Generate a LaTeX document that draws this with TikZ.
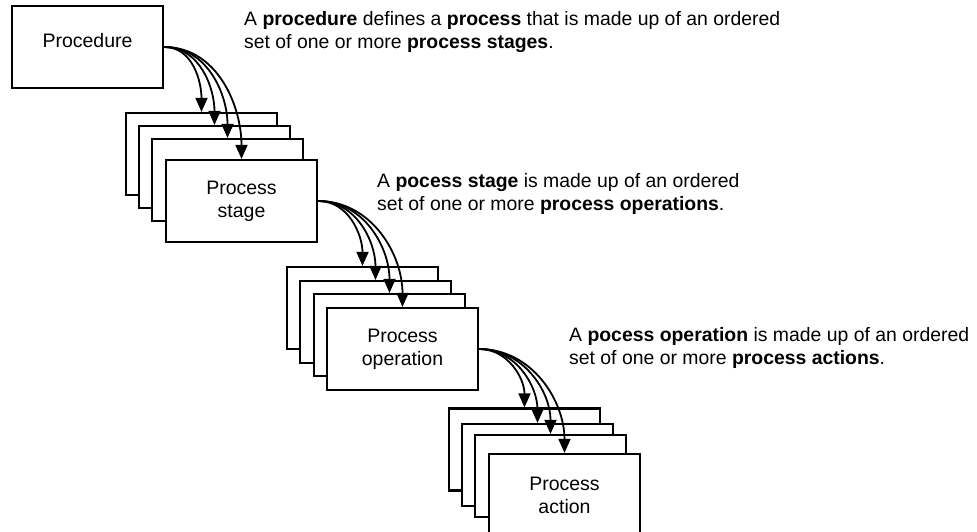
\documentclass[tikz,border=0pt]{standalone}
\usepackage{fontspec}
\setmainfont{Liberation Sans}
\usetikzlibrary{arrows.meta}
\begin{document}
\begin{tikzpicture}[x=1pt,y=-1pt,
  box/.style={draw=black,line width=2.2pt,fill=white,minimum width=151pt,minimum height=82pt,inner sep=0pt,align=center,font=\fontsize{19.5}{23}\selectfont},
  arr/.style={line width=1.8pt,-{Triangle[length=14pt,width=12pt]}},
  desc/.style={align=left,anchor=west,inner sep=0pt,font=\fontsize{19.4}{23}\selectfont}]
\useasboundingbox (0,0) rectangle (977,531);
% procedure
\node[box,label={[yshift=6pt,font=\fontsize{19.5}{23}\selectfont]center:Procedure}] (p) at (87.5,47) {};
% stage stack
\node[box] (s1) at (201.5,154) {};
\node[box] (s2) at (214.5,167) {};
\node[box] (s3) at (227.5,180) {};
\node[box] (s4) at (241.5,201) {Process\\stage};
% operation stack
\node[box] (o1) at (362.5,308) {};
\node[box] (o2) at (375.5,322) {};
\node[box] (o3) at (389.5,335) {};
\node[box] (o4) at (402.5,349) {Process\\operation};
% action stack
\node[box] (a1) at (524.5,449.5) {};
\node[box] (a2) at (537.5,465) {};
\node[box] (a3) at (550.5,476) {};
\node[box] (a4) at (564.5,495) {Process\\action};
% arrows
\foreach \t in {s1,s2,s3,s4} \draw[arr] (p.east) to[out=0,in=90] (\t.north);
\foreach \t in {o1,o2,o3,o4} \draw[arr] (s4.east) to[out=0,in=90] (\t.north);
\foreach \t in {a1,a2,a3,a4} \draw[arr] (o4.east) to[out=0,in=90] (\t.north);
% descriptions
\node[desc] (t1) at (244,32) {A \textbf{procedure} defines a \textbf{process} that is made up of an ordered\\set of one or more \textbf{process stages}.};
\node[desc] (t2) at (377,194) {A \textbf{pocess stage} is made up of an ordered\\set of one or more \textbf{process operations}.};
\node[desc] (t3) at (569,348) {A \textbf{pocess operation} is made up of an ordered\\set of one or more \textbf{process actions}.};
\end{tikzpicture}
\end{document}
